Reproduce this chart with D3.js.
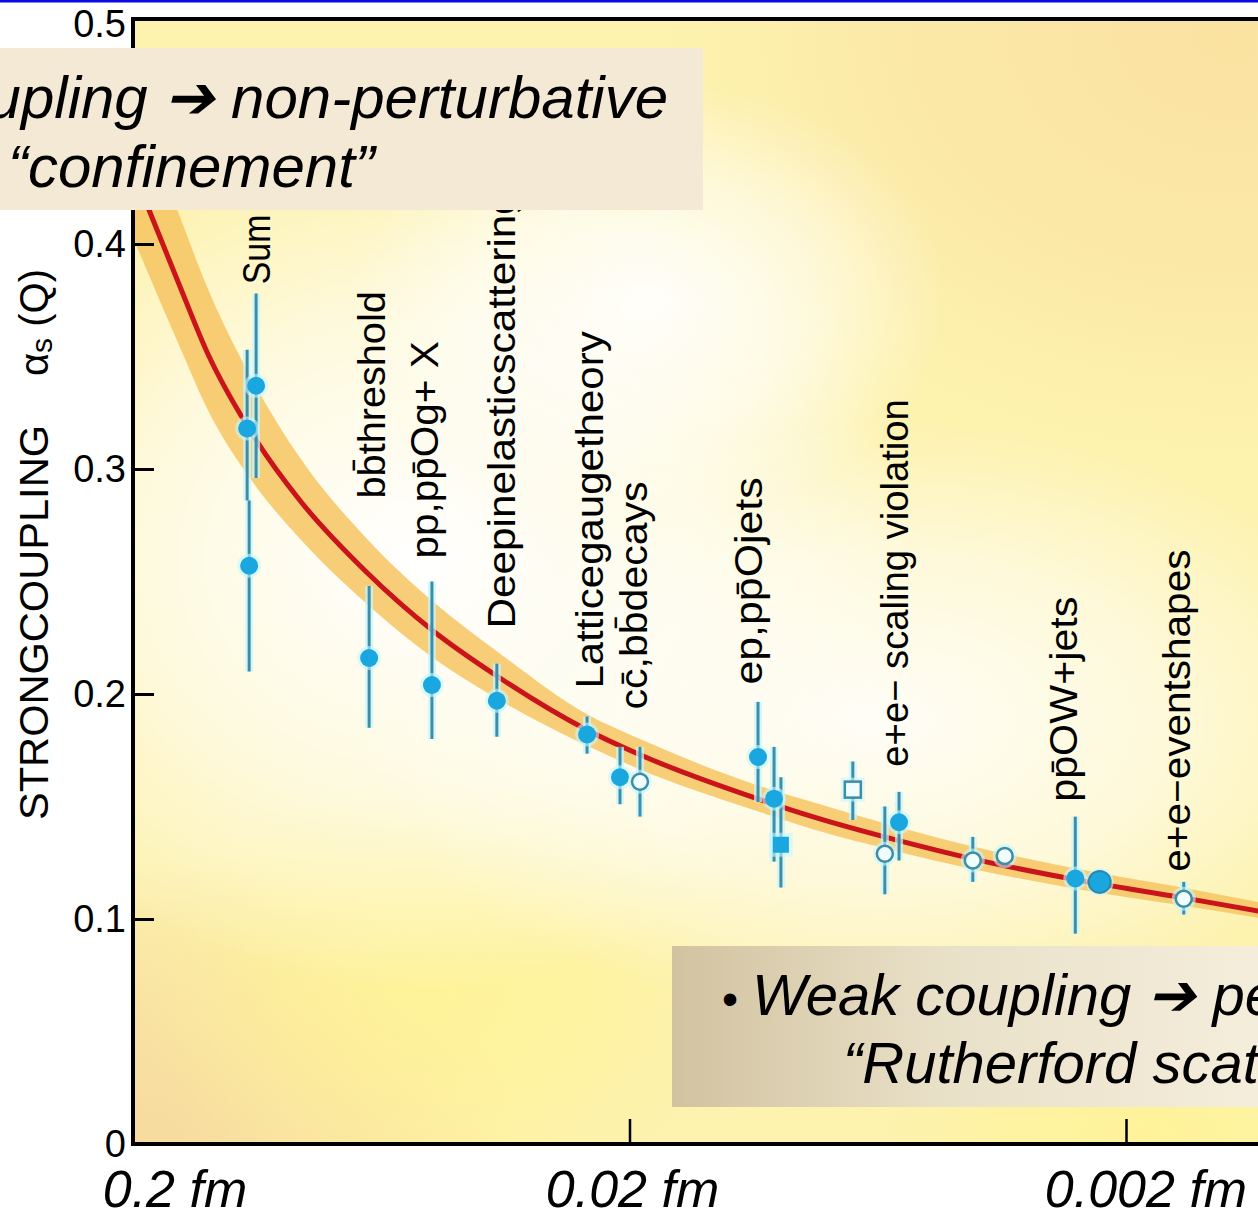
<!DOCTYPE html>
<html>
<head>
<meta charset="utf-8">
<script src="https://cdn.jsdelivr.net/npm/d3@7"></script>
<style>
  html, body { margin: 0; padding: 0; background: #ffffff; }
  svg { display: block; }
</style>
</head>
<body>
<svg id="chart" width="1258" height="1220"></svg>
<script>
// ---- Running coupling: distance scale (fm) and alpha_s ----
const curveFm    = [0.2, 0.1848, 0.1608, 0.1419, 0.1146, 0.0922, 0.0676, 0.0497, 0.0370, 0.02435, 0.01905, 0.01107, 0.00827, 0.00589, 0.00403, 0.00253, 0.00154, 0.00108];
const curveAlpha = [0.433, 0.414, 0.381, 0.352, 0.315, 0.286, 0.254, 0.228, 0.208, 0.184, 0.173, 0.1535, 0.1445, 0.1355, 0.1265, 0.1175, 0.1095, 0.1035];
const bandLow    = [0.403, 0.385, 0.354, 0.327, 0.294, 0.269, 0.240, 0.216, 0.198, 0.177, 0.1665, 0.148, 0.139, 0.1305, 0.122, 0.1135, 0.106, 0.1005];
const bandHigh   = [0.466, 0.447, 0.412, 0.381, 0.339, 0.305, 0.269, 0.241, 0.219, 0.191, 0.180, 0.1595, 0.151, 0.1415, 0.132, 0.1225, 0.114, 0.1075];

// ---- Measurements ----
const pointFm    = [0.113, 0.1178, 0.1167, 0.0669, 0.0500, 0.0370, 0.02435, 0.0209, 0.01905, 0.01102, 0.01023, 0.00991, 0.0071, 0.00612, 0.00573, 0.00407, 0.00351, 0.00253, 0.00226, 0.00153];
const pointAlpha = [0.337, 0.318, 0.257, 0.216, 0.204, 0.197, 0.182, 0.163, 0.161, 0.172, 0.1535, 0.133, 0.1575, 0.129, 0.143, 0.126, 0.128, 0.118, 0.1165, 0.109];
const errLow     = [0.296, 0.286, 0.210, 0.185, 0.180, 0.181, 0.1735, 0.151, 0.1455, 0.152, 0.1255, 0.114, 0.144, 0.111, 0.126, 0.1165, 0.128, 0.0935, 0.113, 0.102];
const errHigh    = [0.378, 0.353, 0.286, 0.248, 0.250, 0.2135, 0.190, 0.1765, 0.1765, 0.1965, 0.1765, 0.163, 0.170, 0.150, 0.1565, 0.1365, 0.128, 0.1455, 0.120, 0.1165];
const pointKind  = ["filled", "filled", "filled", "filled", "filled", "filled", "filled", "filled", "open", "filled", "filled", "square", "openSquare", "open", "filled", "open", "open", "filled", "filledLarge", "open"];

// ---- Process labels (placed along the distance axis, spanning an alpha range) ----
const labelText  = ["Sum rules", "bb\u0304threshold", "pp,pp\u0304Og+ X", "Deepinelasticscattering", "Latticegaugetheory", "cc\u0304,bb\u0304decays", "ep,pp\u0304Ojets", "e+e\u2212 scaling violation", "pp\u0304OW+jets", "e+e\u2212eventshapes"];
const labelFm    = [0.1059, 0.06215, 0.0486, 0.0340, 0.02261, 0.01844, 0.01082, 0.0055, 0.00251, 0.001487];
const labelFrom  = [0.3821, 0.2869, 0.2602, 0.2291, 0.2024, 0.1931, 0.2042, 0.1677, 0.1521, 0.1210];
const labelTo    = [0.4500, 0.3790, 0.3568, 0.4235, 0.3612, 0.2945, 0.2963, 0.3310, 0.2433, 0.2642];

// ---- Axes ----
const yTicks  = [0, 0.1, 0.2, 0.3, 0.4, 0.5];
const xTicks  = [0.2, 0.02, 0.002];
const xTickLabels = ["0.2 fm", "0.02 fm", "0.002 fm"];
const yAxisTitle = "STRONGCOUPLING";

// ---- Callouts ----
const strongLines = ["\u2022 Strong coupling \u2794 non-perturbative", "\u201Cconfinement\u201D"];
const weakBullet  = "\u2022";
const weakLines   = ["Weak coupling \u2794 perturbative", "\u201CRutherford scattering\u201D"];

// ================= drawing =================
const W = 1258, H = 1220;
const svg = d3.select("#chart");
const x = d3.scaleLog().domain([0.2, 0.002]).range([133, 1126]);
const y = d3.scaleLinear().domain([0, 0.5]).range([1144, 19]);
const plotL = x(0.2), plotT = y(0.5), plotB = y(0), plotR = W + 10;

const defs = svg.append("defs");
defs.append("clipPath").attr("id", "plotClip")
  .append("rect").attr("x", plotL).attr("y", plotT).attr("width", plotR - plotL).attr("height", plotB - plotT);

function glow(id, color, o0, o1) {
  const g = defs.append("radialGradient").attr("id", id);
  g.append("stop").attr("offset", "0%").attr("stop-color", color).attr("stop-opacity", o0);
  g.append("stop").attr("offset", "55%").attr("stop-color", color).attr("stop-opacity", (o0 + o1) * 0.6);
  g.append("stop").attr("offset", "100%").attr("stop-color", color).attr("stop-opacity", o1);
}
glow("gWhite", "#ffffff", 1, 0);
glow("gWhiteSoft", "#ffffff", 0.9, 0);
glow("gPeach", "#fae0a0", 0.9, 0);
glow("gPeach2", "#f6d99e", 0.95, 0);
glow("gYellow", "#fff394", 0.8, 0);

// soft yellow backdrop of the plot area
const bg = svg.append("g").attr("clip-path", "url(#plotClip)");
bg.append("rect").attr("x", plotL).attr("y", plotT).attr("width", plotR - plotL).attr("height", plotB - plotT).attr("fill", "#fdf2ae");
bg.append("ellipse").attr("cx", 1230).attr("cy", 30).attr("rx", 560).attr("ry", 420).attr("fill", "url(#gPeach)");
bg.append("ellipse").attr("cx", 140).attr("cy", 1140).attr("rx", 380).attr("ry", 280).attr("fill", "url(#gPeach2)");
bg.append("ellipse").attr("cx", 430).attr("cy", 990).attr("rx", 300).attr("ry", 220).attr("fill", "url(#gYellow)");
bg.append("ellipse").attr("cx", 1150).attr("cy", 1130).attr("rx", 260).attr("ry", 120).attr("fill", "url(#gYellow)");
bg.append("ellipse").attr("cx", 420).attr("cy", 560).attr("rx", 500).attr("ry", 430).attr("fill", "url(#gWhite)");
bg.append("ellipse").attr("cx", 880).attr("cy", 720).attr("rx", 520).attr("ry", 300).attr("fill", "url(#gWhiteSoft)");
bg.append("ellipse").attr("cx", 650).attr("cy", 300).attr("rx", 300).attr("ry", 220).attr("fill", "url(#gWhiteSoft)");

// ---- uncertainty band and central curve ----
const curve = curveFm.map((d, i) => ({ d, a: curveAlpha[i], lo: bandLow[i], hi: bandHigh[i] }));
const plotG = svg.append("g").attr("clip-path", "url(#plotClip)");
plotG.append("path")
  .attr("d", d3.area().x(p => x(p.d)).y0(p => y(p.lo)).y1(p => y(p.hi)).curve(d3.curveMonotoneX)(curve))
  .attr("fill", "#f6c461").attr("opacity", 0.85);
plotG.append("path")
  .attr("d", d3.line().x(p => x(p.d)).y(p => y(p.a)).curve(d3.curveMonotoneX)(curve))
  .attr("fill", "none").attr("stroke", "#c8141a").attr("stroke-width", 5);

// ---- measurements with error bars ----
const pts = pointFm.map((d, i) => ({ d, a: pointAlpha[i], lo: errLow[i], hi: errHigh[i], k: pointKind[i] }));
const errG = plotG.append("g");
errG.selectAll("line.halo").data(pts).join("line").attr("class", "halo")
  .attr("x1", p => x(p.d)).attr("x2", p => x(p.d))
  .attr("y1", p => y(p.hi)).attr("y2", p => y(p.lo))
  .attr("stroke", "#c6f6ff").attr("stroke-width", 8).attr("opacity", 0.75);
errG.selectAll("line.bar").data(pts).join("line").attr("class", "bar")
  .attr("x1", p => x(p.d)).attr("x2", p => x(p.d))
  .attr("y1", p => y(p.hi)).attr("y2", p => y(p.lo))
  .attr("stroke", "#3d8da6").attr("stroke-width", 3);

const mk = plotG.append("g");
pts.forEach(p => {
  const cx = x(p.d), cy = y(p.a);
  const big = p.k === "filledLarge";
  const r = big ? 11 : 9;
  if (p.k === "square" || p.k === "openSquare") {
    mk.append("rect").attr("x", cx - r - 3).attr("y", cy - r - 3).attr("width", 2 * r + 6).attr("height", 2 * r + 6)
      .attr("fill", "#c6f6ff").attr("opacity", 0.6);
    mk.append("rect").attr("x", cx - r + 1).attr("y", cy - r + 1).attr("width", 2 * r - 2).attr("height", 2 * r - 2)
      .attr("fill", p.k === "square" ? "#1aa6df" : "#f0fdff")
      .attr("stroke", p.k === "square" ? "none" : "#3d8da6").attr("stroke-width", 2.5);
  } else {
    mk.append("circle").attr("cx", cx).attr("cy", cy).attr("r", r + 3).attr("fill", "#c6f6ff").attr("opacity", 0.6);
    mk.append("circle").attr("cx", cx).attr("cy", cy).attr("r", p.k === "open" ? r - 1 : r)
      .attr("fill", p.k === "open" ? "#f0fdff" : "#1aa6df")
      .attr("stroke", p.k === "open" ? "#3d8da6" : (big ? "#2f86a8" : "none"))
      .attr("stroke-width", p.k === "open" ? 2.5 : 2);
  }
});

// ---- rotated process labels ----
const lab = svg.append("g").attr("clip-path", "url(#plotClip)")
  .attr("font-family", "'Liberation Sans', Arial, sans-serif").attr("font-size", 38).attr("fill", "#000");
labelText.forEach((t, i) => {
  const bx = x(labelFm[i]), by = y(labelFrom[i]);
  lab.append("text")
    .attr("transform", `translate(${bx},${by}) rotate(-90)`)
    .attr("textLength", y(labelFrom[i]) - y(labelTo[i]))
    .attr("lengthAdjust", "spacingAndGlyphs")
    .text(t);
});

// ---- frame ----
const frame = svg.append("g").attr("stroke", "#000").attr("stroke-width", 4).attr("fill", "none");
frame.append("line").attr("x1", plotL).attr("x2", plotL).attr("y1", plotT - 2).attr("y2", plotB + 2);
frame.append("line").attr("x1", plotL - 2).attr("x2", plotR).attr("y1", plotB).attr("y2", plotB);
frame.append("line").attr("x1", plotL - 2).attr("x2", plotR).attr("y1", plotT).attr("y2", plotT);

// ---- y axis ----
const yAxis = svg.append("g").attr("transform", `translate(${plotL},0)`)
  .call(d3.axisLeft(y).tickValues(yTicks).tickSize(-21).tickPadding(7)
    .tickFormat(d => d === 0 ? "0" : d3.format(".1f")(d)));
yAxis.select(".domain").remove();
yAxis.selectAll(".tick line").attr("stroke", "#000").attr("stroke-width", 3);
yAxis.selectAll(".tick text").attr("font-family", "'Liberation Sans', Arial, sans-serif")
  .attr("font-size", 38).attr("fill", "#000");
yAxis.selectAll(".tick").filter(d => d === 0.5).select("text").attr("dy", "0.45em");

// ---- x axis (inward ticks) ----
const xAxis = svg.append("g").attr("transform", `translate(0,${plotB})`)
  .call(d3.axisBottom(x).tickValues(xTicks.slice(1)).tickSize(-25).tickFormat(""));
xAxis.select(".domain").remove();
xAxis.selectAll(".tick line").attr("stroke", "#000").attr("stroke-width", 2.5);

const xLabelShift = [42, 3, 20];
svg.append("g").selectAll("text").data(xTicks).join("text")
  .attr("x", (d, i) => x(d) + xLabelShift[i]).attr("y", 1207)
  .attr("text-anchor", "middle")
  .attr("font-family", "'Liberation Sans', Arial, sans-serif").attr("font-style", "italic")
  .attr("font-size", 52).attr("fill", "#000")
  .text((d, i) => xTickLabels[i]);

// ---- y axis title ----
svg.append("text")
  .attr("transform", "translate(48,820) rotate(-90)")
  .attr("font-family", "'Liberation Sans', Arial, sans-serif").attr("font-size", 40)
  .attr("textLength", 395).attr("lengthAdjust", "spacingAndGlyphs")
  .text(yAxisTitle);
const sym = svg.append("text")
  .attr("transform", "translate(48,376) rotate(-90)")
  .attr("font-family", "'Liberation Sans', Arial, sans-serif").attr("font-size", 40);
sym.append("tspan").text("\u03B1");
sym.append("tspan").attr("font-size", 30).attr("dy", 4).text("s");
sym.append("tspan").attr("dy", -4).text(" (Q)");

// ---- callout boxes ----
svg.append("rect").attr("x", -5).attr("y", 48).attr("width", 708).attr("height", 162).attr("fill", "#f3e9d4");
const boxFont = (g, size) => g.attr("font-family", "'Liberation Sans', Arial, sans-serif").attr("font-style", "italic")
  .attr("font-size", size).attr("fill", "#000");
svg.append("text").call(boxFont, 60).attr("x", 668).attr("y", 118).attr("text-anchor", "end").text(strongLines[0]);
svg.append("text").call(boxFont, 60).attr("x", 8).attr("y", 187).text(strongLines[1]);

const lg = defs.append("linearGradient").attr("id", "weakFill").attr("x1", "0%").attr("x2", "100%");
lg.append("stop").attr("offset", "0%").attr("stop-color", "#d2c3a0");
lg.append("stop").attr("offset", "45%").attr("stop-color", "#e9e0c8");
lg.append("stop").attr("offset", "100%").attr("stop-color", "#f5eedc");
svg.append("rect").attr("x", 672).attr("y", 946).attr("width", 600).attr("height", 161).attr("fill", "url(#weakFill)");
const weak1 = svg.append("text").call(boxFont, 58).attr("y", 1015);
weak1.append("tspan").attr("x", 722).attr("font-style", "normal").attr("font-size", 46).text(weakBullet);
weak1.append("tspan").attr("x", 752).text(weakLines[0]);
svg.append("text").call(boxFont, 58).attr("x", 843).attr("y", 1083).text(weakLines[1]);

// ---- slide rule at the very top ----
svg.append("rect").attr("x", 0).attr("y", 0).attr("width", W).attr("height", 2.5).attr("fill", "#0b0be6");
</script>
</body>
</html>
